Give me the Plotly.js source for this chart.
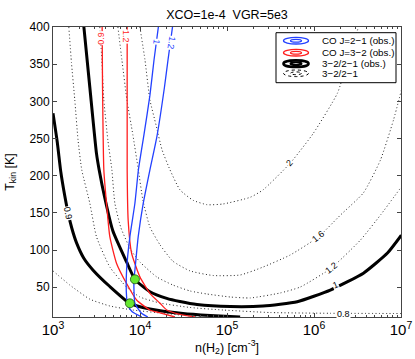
<!DOCTYPE html>
<html>
<head>
<meta charset="utf-8">
<script src="https://cdn.plot.ly/plotly-3.0.1.min.js"></script>
<style>html,body{margin:0;padding:0;background:#fff}#plot{width:415px;height:359px}</style>
</head>
<body>
<div id="plot"></div>
<script>
// contours: n(H2) [cm^-3] and Tkin [K]
// 3-2/2-1 observed (thick black)
var nObs09 = [1000, 1120, 1230, 1360, 1490, 1640, 1860, 2260, 2890, 4500, 7650, 13000, 31200, 63900, 141600];
var tObs09 = [284, 245, 205, 174, 150, 130, 110, 89, 73, 51, 28.4, 20.8, 14.7, 12, 10];
var nObs10 = [2260, 2650, 3160, 3390, 3940, 4870, 7010, 8740, 13000, 20300, 28800, 45200, 109000, 260000, 642000, 1.54e6, 3.7e6, 6.99e6, 1.01e7];
var tObs10 = [401, 319, 230, 208, 170, 126, 84, 60.7, 44, 35, 30.8, 26.8, 24.1, 24.8, 30.6, 46.3, 69, 96, 120];
// CO J=3-2 observed (red)
var nCo32a = [3670, 3710, 3840, 4120, 4500, 5380, 7010, 9140, 13000, 17000, 25200];
var tCo32a = [401, 319, 208, 163, 118, 82, 55, 32.9, 19.4, 15.4, 10];
var nCo32b = [7120, 7120, 7310, 8000, 9970, 13000, 17000, 20300, 28800, 42900];
var tCo32b = [401, 208, 140, 96, 64, 41.9, 28.4, 19.4, 13.4, 10];
// CO J=2-1 observed (blue)
var nCo21a = [16300, 14500, 13000, 11100, 9590, 8740, 7650, 7010, 7010, 7250, 8070, 10500];
var tCo21a = [401, 356, 308, 255, 208, 163, 118, 73, 37.3, 26.1, 17.4, 10];
var nCo21b = [23700, 21000, 19100, 15600, 13000, 10900, 9540, 8740, 8510, 8740, 10400, 12300];
var tCo21b = [401, 356, 319, 252, 208, 163, 118, 73, 59.8, 28.4, 15, 10];
// model 3-2/2-1 (dotted)
var nMod08 = [1000, 1560, 2650, 4500, 8280, 19400, 49000];
var tMod08 = [72, 53, 34, 24.8, 19.4, 14.7, 10];
var nModLo = [1520, 1630, 1780, 1940, 2140, 2650, 3160, 4500, 7010, 9970, 17000, 37600, 90200, 314000, 1.54e6, 1.01e7];
var tModLo = [400, 352, 302, 248, 208, 163, 118, 77.2, 50.3, 36.9, 28.8, 22.8, 19.4, 16, 15, 14.7];
var nMod12 = [3450, 3640, 3840, 4270, 4750, 5140, 6030, 7860, 9970, 15600, 23900, 37600, 59000, 109000, 185000, 409000, 695000, 1.58e6, 3.42e6, 5.8e6, 1.01e7];
var tMod12 = [400, 356, 302, 248, 208, 163, 130, 100, 84, 63.8, 53, 45, 40.9, 36.9, 35.6, 42.3, 50.3, 75.9, 113.5, 147, 185];
var nMod16 = [5570, 6190, 7070, 8280, 9460, 10800, 13000, 17000, 23900, 37600, 69200, 142000, 260000, 533000, 1.12e6, 2.01e6, 3.7e6, 5.8e6, 8.2e6, 1.01e7];
var tMod16 = [400, 356, 302, 255, 212, 167, 131, 107, 85, 72, 65.8, 66.5, 77.2, 93.4, 117.6, 147, 177, 221, 275, 315];
var nMod20 = [9970, 11400, 13000, 15300, 17900, 22100, 28800, 40700, 59000, 90200, 185000, 260000, 533000, 982000, 1.86e6, 2.36e6, 2.91e6, 3.24e6];
var tMod20 = [400, 356, 302, 268, 235, 208, 181, 167, 161, 162, 171, 181, 217, 257, 311, 349, 382, 400];
// solutions (green)
var nSol = [8740, 7650];
var tSol = [60.7, 28.4];
// contour labels
var labText = ['0.9', '1', '0.9', '1.2', '1', '1.2', '0.8', '1.2', '1.6', '2'];
var labN = [1490, 1.76e6, 3610, 7007, 15530, 22700, 2.18e6, 1.58e6, 1.136e6, 519000];
var labT = [150, 53, 385, 387, 380, 378, 14.7, 75.9, 118.3, 217];

var FONT = 'Liberation Sans, Arial, sans-serif';
var BLUE = 'rgb(35,65,255)', RED = 'rgb(255,30,30)';
var labColor = ['#000', '#000', RED, RED, BLUE, BLUE, '#000', '#000', '#000', '#000'];
var labAngle = [78, -23, -90, 90, 97, 100, 0, -38, -38, -48];

function curve(n, t, color, width, dash) {
    return {x: n, y: t, type: 'scatter', mode: 'lines', hoverinfo: 'skip', showlegend: false,
        line: {color: color, width: width, dash: dash || 'solid', shape: 'spline', smoothing: 0.5}};
}
var DOT = '1px,2.5px';
var data = [
    curve(nMod08, tMod08, '#222', 1, DOT),
    curve(nModLo, tModLo, '#222', 1, DOT),
    curve(nMod12, tMod12, '#222', 1, DOT),
    curve(nMod16, tMod16, '#222', 1, DOT),
    curve(nMod20, tMod20, '#222', 1, DOT),
    curve(nObs09, tObs09, '#000', 3),
    curve(nObs10, tObs10, '#000', 3),
    curve(nCo32a, tCo32a, RED, 1.3),
    curve(nCo32b, tCo32b, RED, 1.3),
    curve(nCo21a, tCo21a, BLUE, 1.3),
    curve(nCo21b, tCo21b, BLUE, 1.3),
    {x: nSol, y: tSol, type: 'scatter', mode: 'markers', hoverinfo: 'skip', showlegend: false,
        marker: {color: '#66e830', size: 9, line: {color: '#205010', width: 0.8}}}
];

// plot box in pixels, used for the hand-made legend
var L = 53, R = 401, T = 27, B = 317;
function px(x) { return (x - L) / (R - L); }
function py(y) { return (B - y) / (B - T); }

var annotations = labText.map(function (s, i) {
    return {x: Math.log10(labN[i]), y: labT[i], xref: 'x', yref: 'y', text: s, showarrow: false,
        textangle: labAngle[i], bgcolor: '#fff', borderpad: 0,
        font: {family: FONT, size: 9, color: labColor[i]}};
});

var legRows = [40.7, 52.7, 63.7, 73.3];
var legText = ['CO J=2\u22121 (obs.)', 'CO J=3\u22122 (obs.)', '3\u22122/2\u22121 (obs.)', '3\u22122/2\u22121'];
var legColor = [BLUE, RED, '#000', '#000'];
var legWidth = [1.3, 1.3, 2.6, 1];
var shapes = [{type: 'rect', xref: 'paper', yref: 'paper', x0: px(276), x1: px(396), y0: py(82.7), y1: py(32.7),
    fillcolor: '#fff', line: {color: '#000', width: 1}}];
legRows.forEach(function (yy, i) {
    var dash = i === 3 ? 'dot' : 'solid';
    shapes.push({type: 'circle', xref: 'paper', yref: 'paper', x0: px(283.5), x1: px(308.5),
        y0: py(yy + 3.3), y1: py(yy - 3.3), line: {color: legColor[i], width: legWidth[i], dash: dash}});
    shapes.push({type: 'circle', xref: 'paper', yref: 'paper', x0: px(290.5), x1: px(301.5),
        y0: py(yy + 1.4), y1: py(yy - 1.4), line: {color: legColor[i], width: i === 2 ? 2 : legWidth[i], dash: dash}});
    annotations.push({x: px(320), y: py(yy), xref: 'paper', yref: 'paper', xanchor: 'left', yanchor: 'middle',
        text: legText[i], showarrow: false, font: {family: FONT, size: 9.8, color: '#000'}});
});

var axisCommon = {showline: true, linecolor: '#444', linewidth: 1, mirror: 'allticks', ticks: 'inside',
    ticklen: 4, tickcolor: '#444', showgrid: false, zeroline: false,
    tickfont: {family: FONT, size: 12, color: '#000'}};

var layout = {
    width: 415, height: 359,
    margin: {l: L, r: 415 - R, t: T, b: 359 - B},
    paper_bgcolor: '#fff', plot_bgcolor: '#fff',
    font: {family: FONT, color: '#000'},
    title: {text: 'XCO=1e-4\u00a0 VGR=5e3', font: {family: FONT, size: 12.5, color: '#000'},
        xref: 'paper', x: 0.5, y: 1 - 15 / 359, yanchor: 'middle'},
    xaxis: Object.assign({}, axisCommon, {type: 'log', range: [3, 7], dtick: 1, exponentformat: 'power',
        minor: {ticks: 'inside', ticklen: 2, dtick: 'D1', tickcolor: '#444'},
        title: {text: 'n(H<sub>2</sub>) [cm<sup>-3</sup>]', font: {family: FONT, size: 12.5}, standoff: 4}}),
    yaxis: Object.assign({}, axisCommon, {range: [10, 400], dtick: 50, tick0: 0,
        title: {text: 'T<sub>kin</sub> [K]', font: {family: FONT, size: 12.5}, standoff: 12}}),
    showlegend: false,
    hovermode: false,
    shapes: shapes,
    annotations: annotations
};

Plotly.newPlot('plot', data, layout, {displayModeBar: false, staticPlot: true});
</script>
</body>
</html>
